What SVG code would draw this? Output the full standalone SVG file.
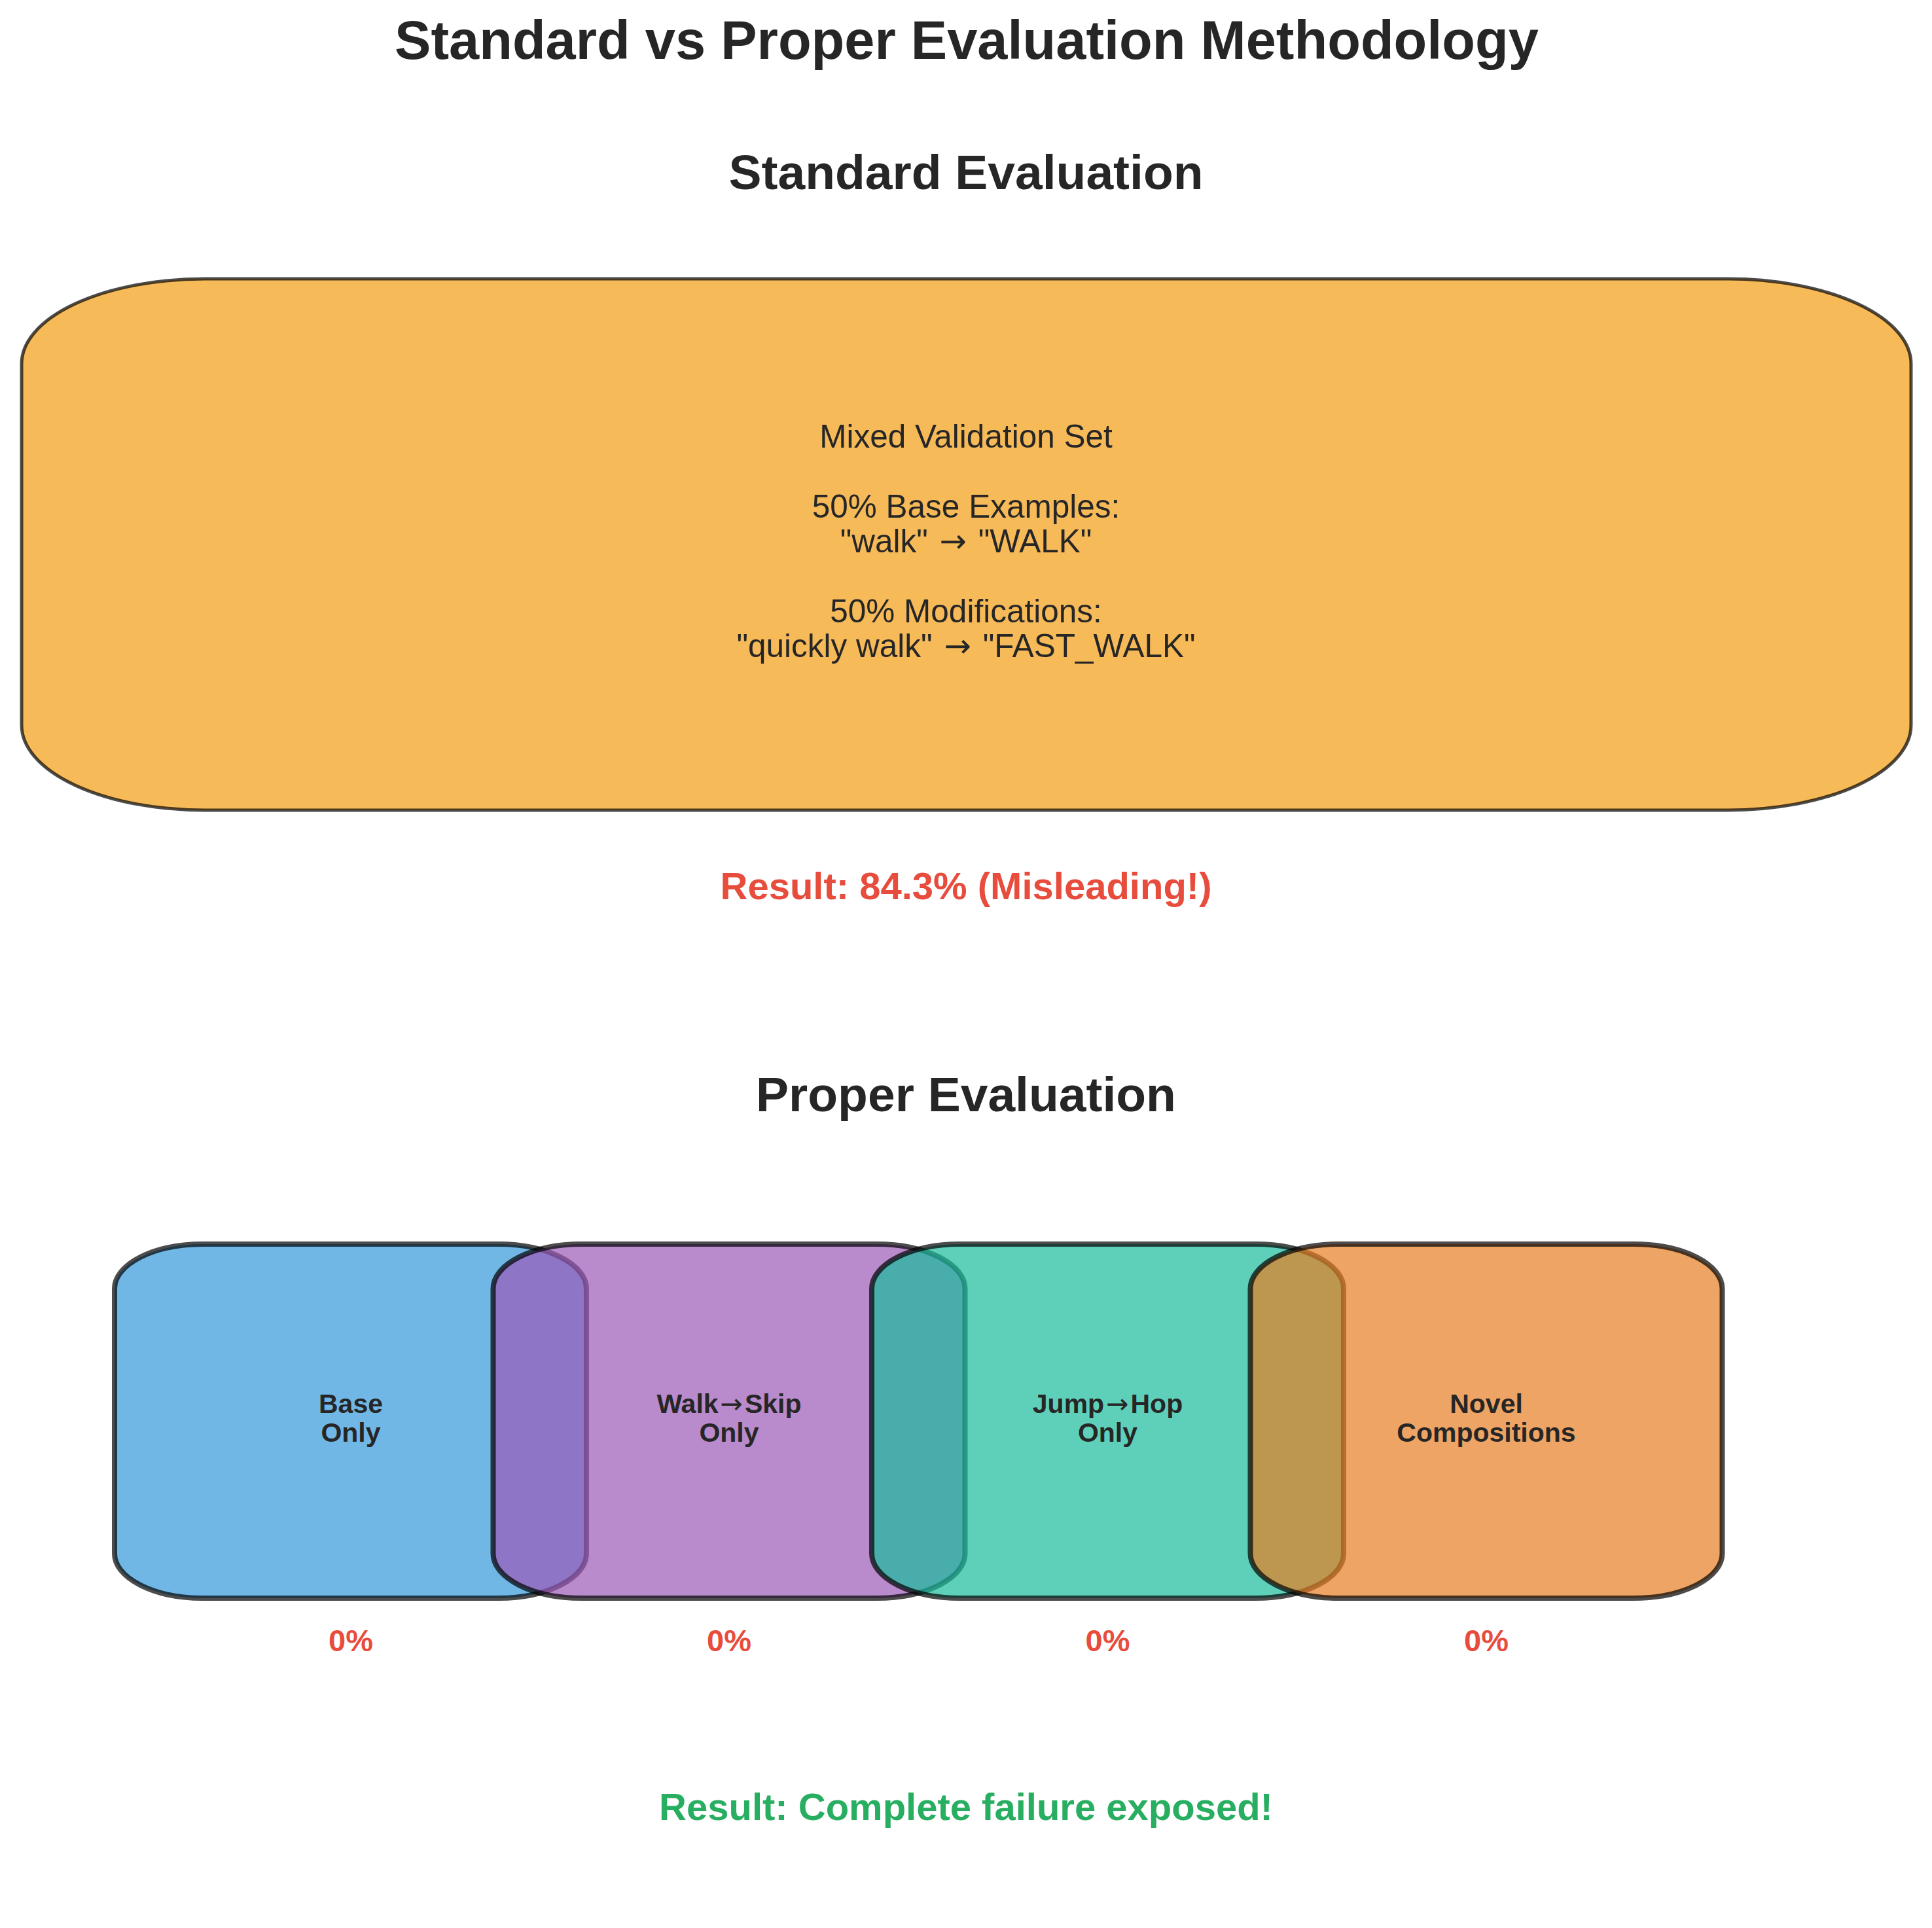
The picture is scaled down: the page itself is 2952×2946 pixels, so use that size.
<svg xmlns="http://www.w3.org/2000/svg" width="2952" height="2946" viewBox="0 0 2952 2946">
<style>
text{font-family:"Liberation Sans",Arial,Helvetica,sans-serif;fill:#262626;text-anchor:middle}
.title{font-size:83px;font-weight:bold}
.head{font-size:75px;font-weight:bold}
.body{font-size:49.5px}
.lbl{font-size:41px;font-weight:bold}
.pct{font-size:47px;font-weight:bold;fill:#e74c3c}
.res{font-size:58px;font-weight:bold}
.arr{font-family:"DejaVu Sans",sans-serif;font-weight:normal}
.box{fill-opacity:0.7;stroke:#000;stroke-opacity:0.7}
.big{stroke-width:5}
.small{stroke-width:8}
</style>
<rect width="2952" height="2946" fill="#ffffff"/>
<text class="title" x="1477" y="90">Standard vs Proper Evaluation Methodology</text>
<text class="head" x="1476" y="289">Standard Evaluation</text>
<g id="mixed-validation-set">
<rect class="box big" x="33" y="426" width="2887" height="812" rx="280" ry="130" fill="#f39c12"/>
<text class="body" x="1476" y="684">Mixed Validation Set</text>
<text class="body" x="1476" y="791">50% Base Examples:</text>
<text class="body" x="1476" y="844">"walk" <tspan class="arr" dx="4">→</tspan><tspan dx="4"> "WALK"</tspan></text>
<text class="body" x="1476" y="951">50% Modifications:</text>
<text class="body" x="1476" y="1004">"quickly walk" <tspan class="arr" dx="4">→</tspan><tspan dx="4"> "FAST_WALK"</tspan></text>
</g>
<text class="res" x="1476" y="1374" style="fill:#e74c3c">Result: 84.3% (Misleading!)</text>
<text class="head" x="1476" y="1698">Proper Evaluation</text>
<g id="base-only">
<rect class="box small" x="175" y="1901" width="721" height="541" rx="135" ry="68" fill="#3498db"/>
<text class="lbl" x="536" y="2159">Base</text>
<text class="lbl" x="536" y="2203">Only</text>
</g>
<g id="walk-skip-only">
<rect class="box small" x="753.5" y="1901" width="721" height="541" rx="135" ry="68" fill="#9b59b6"/>
<text class="lbl" x="1114" y="2159">Walk<tspan class="arr" dx="3">→</tspan><tspan dx="3">Skip</tspan></text>
<text class="lbl" x="1114" y="2203">Only</text>
</g>
<g id="jump-hop-only">
<rect class="box small" x="1332" y="1901" width="721" height="541" rx="135" ry="68" fill="#1abc9c"/>
<text class="lbl" x="1692.5" y="2159">Jump<tspan class="arr" dx="3">→</tspan><tspan dx="3">Hop</tspan></text>
<text class="lbl" x="1692.5" y="2203">Only</text>
</g>
<g id="novel-compositions">
<rect class="box small" x="1910.5" y="1901" width="721" height="541" rx="135" ry="68" fill="#e67e22"/>
<text class="lbl" x="2271" y="2159">Novel</text>
<text class="lbl" x="2271" y="2203">Compositions</text>
</g>
<g id="scores">
<text class="pct" x="536" y="2523">0%</text>
<text class="pct" x="1114" y="2523">0%</text>
<text class="pct" x="1692.5" y="2523">0%</text>
<text class="pct" x="2271" y="2523">0%</text>
</g>
<g id="connectors"></g>
<text class="res" x="1476" y="2781" style="fill:#27ae60">Result: Complete failure exposed!</text>
</svg>
